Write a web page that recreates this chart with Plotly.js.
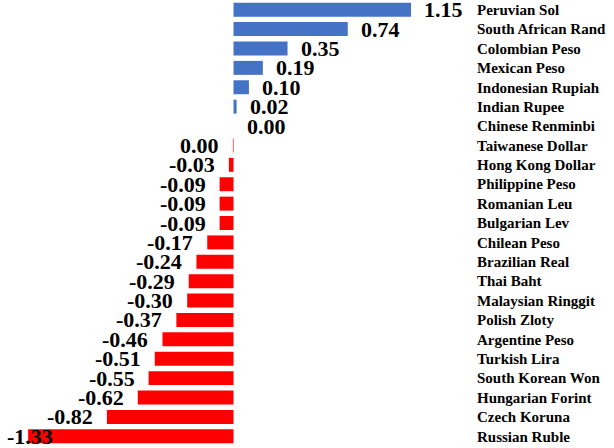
<!DOCTYPE html>
<html><head><meta charset="utf-8">
<script src="https://cdn.plot.ly/plotly-3.0.1.min.js"></script>
<style>html,body{margin:0;padding:0;background:#fff;}#chart{width:614px;height:448px;}</style>
</head><body><div id="chart"></div>
<script>
const categories = ["Peruvian Sol","South African Rand","Colombian Peso","Mexican Peso","Indonesian Rupiah","Indian Rupee","Chinese Renminbi","Taiwanese Dollar","Hong Kong Dollar","Philippine Peso","Romanian Leu","Bulgarian Lev","Chilean Peso","Brazilian Real","Thai Baht","Malaysian Ringgit","Polish Zloty","Argentine Peso","Turkish Lira","South Korean Won","Hungarian Forint","Czech Koruna","Russian Ruble"];
const values = [1.15,0.74,0.35,0.19,0.10,0.02,0.000,-0.004,-0.03,-0.09,-0.09,-0.09,-0.17,-0.24,-0.29,-0.30,-0.37,-0.46,-0.51,-0.55,-0.62,-0.82,-1.33];
const valueLabels = ["1.15","0.74","0.35","0.19","0.10","0.02","0.00","0.00","-0.03","-0.09","-0.09","-0.09","-0.17","-0.24","-0.29","-0.30","-0.37","-0.46","-0.51","-0.55","-0.62","-0.82","-1.33"];

const W = 614, H = 448;
const mL = 0, mR = 140, mT = 0, mB = 2;
const scale = 154.4;          // px per unit
const zeroPx = 233.5;
const plotW = W - mL - mR;
const xRange = [-zeroPx/scale, (plotW - zeroPx)/scale];

const colors = values.map(v => v >= 0 ? '#4472C4' : '#FF0000');

const font = {family: 'Liberation Serif, Times New Roman, serif', weight: 'bold', color: '#000'};

const annotations = values.map((v, i) => {
  const pos = v >= 0;
  const px = (v - xRange[0]) / (xRange[1]-xRange[0]) * plotW;
  const base = {text: valueLabels[i], y: categories[i], yref: 'y', showarrow: false,
    font: Object.assign({}, font, {size: 22}), yanchor: 'middle', yshift: 0};
  if (pos) return Object.assign(base, {x: v, xref: 'x', xanchor: 'left', xshift: 11});
  if (px < 60) return Object.assign(base, {x: 0, xref: 'paper', xanchor: 'left', xshift: 5});
  return Object.assign(base, {x: v, xref: 'x', xanchor: 'right', xshift: -12});
});

const trace = {
  type: 'bar', orientation: 'h', x: values, y: categories,
  marker: {color: colors, line: {width: 0}}, hoverinfo: 'none'
};

const layout = {
  width: W, height: H,
  margin: {l: mL, r: mR, t: mT, b: mB, pad: 0, autoexpand: false},
  paper_bgcolor: '#fff', plot_bgcolor: '#fff',
  showlegend: false, bargap: 0.28,
  xaxis: {range: xRange, visible: false, showgrid: false, zeroline: false, fixedrange: true},
  yaxis: {type: 'category', range: [categories.length - 0.5, -0.5], side: 'right', showgrid: false, zeroline: false,
    showline: false, ticks: '', ticklen: 0, ticklabelstandoff: 2, automargin: false,
    tickfont: Object.assign({}, font, {size: 15}), fixedrange: true},
  annotations: annotations
};

Plotly.newPlot('chart', [trace], layout, {displayModeBar: false, staticPlot: true});
</script></body></html>
